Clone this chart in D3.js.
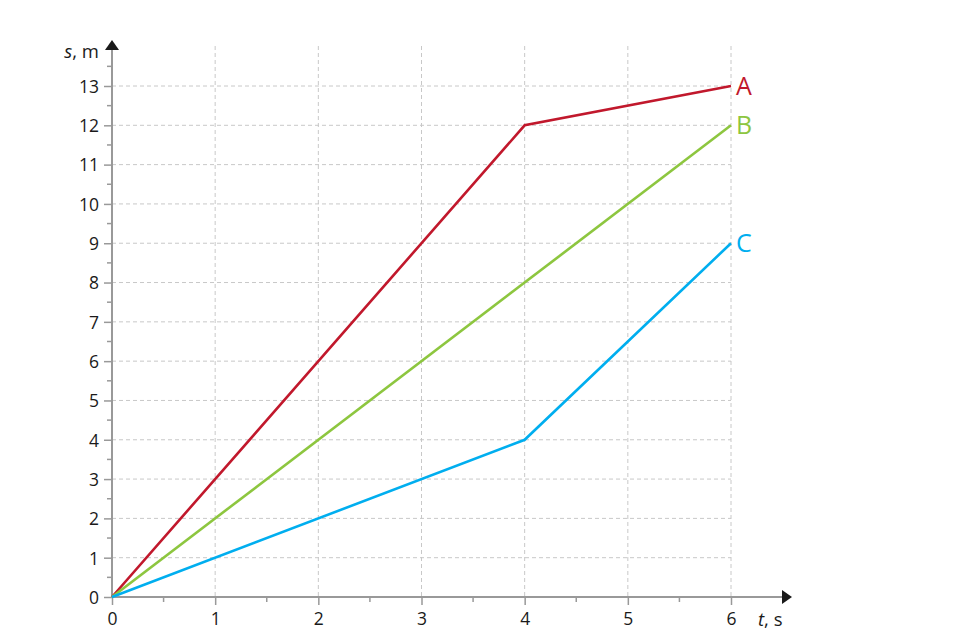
<!DOCTYPE html>
<html><head><meta charset="utf-8">
<script src="https://cdn.jsdelivr.net/npm/d3@7"></script>
<style>body{margin:0;background:#fff;}svg{display:block;font-family:"Open Sans",sans-serif;}</style>
</head><body>
<svg id="c" width="960" height="640"></svg>
<script>
const xTicks = [0,1,2,3,4,5,6];
const yTicks = [0,1,2,3,4,5,6,7,8,9,10,11,12,13];
const seriesNames = ["A","B","C"];
const seriesColors = ["#c1182c","#8dc63f","#00aeef"];
const seriesA = [[0,0],[4,12],[6,13]];
const seriesB = [[0,0],[6,12]];
const seriesC = [[0,0],[4,4],[6,9]];
const seriesData = [seriesA, seriesB, seriesC];

const svg = d3.select("#c");
const x = d3.scaleLinear().domain([0,6]).range([112,731]);
const y = d3.scaleLinear().domain([0,13]).range([597,86]);
const axisColor = "#999";
const gridColor = "#c8c8c8";

// grid
const g = svg.append("g");
g.selectAll(".vg").data(xTicks.slice(1)).join("line")
  .attr("x1",d=>x(d)).attr("x2",d=>x(d)).attr("y1",46).attr("y2",597)
  .attr("stroke",gridColor).attr("stroke-width",1).attr("stroke-dasharray","4,3");
g.selectAll(".hg").data(yTicks.slice(1)).join("line")
  .attr("y1",d=>y(d)).attr("y2",d=>y(d)).attr("x1",112).attr("x2",731)
  .attr("stroke",gridColor).attr("stroke-width",1).attr("stroke-dasharray","4,3");

// minor ticks
const xMinor = d3.range(0.5,6,1);
const yMinor = d3.range(0.5,14,1);
svg.append("g").selectAll("line").data(xMinor).join("line")
  .attr("x1",d=>x(d)).attr("x2",d=>x(d)).attr("y1",597).attr("y2",602)
  .attr("stroke",axisColor).attr("stroke-width",1.5);
svg.append("g").selectAll("line").data(yMinor).join("line")
  .attr("y1",d=>y(d)).attr("y2",d=>y(d)).attr("x1",107).attr("x2",112)
  .attr("stroke",axisColor).attr("stroke-width",1.5);

// axes
const xAxis = d3.axisBottom(x).tickValues(xTicks).tickSize(8).tickPadding(5).tickFormat(d3.format("d"));
const yAxis = d3.axisLeft(y).tickValues(yTicks).tickSize(8).tickPadding(5).tickFormat(d3.format("d"));
const gx = svg.append("g").attr("transform","translate(0,597)").call(xAxis);
const gy = svg.append("g").attr("transform","translate(112,0)").call(yAxis);
[gx,gy].forEach(a=>{
  a.select(".domain").remove();
  a.selectAll(".tick line").attr("stroke",axisColor).attr("stroke-width",1.5);
  a.selectAll(".tick text").attr("fill","#1a1a1a").style("font-size","17.5px").style("font-family","'Open Sans',sans-serif");
});
gy.selectAll(".tick text").attr("dy","0.36em");
gx.selectAll(".tick text").attr("dy","0.85em");

// axis lines with arrows
svg.append("line").attr("x1",112).attr("x2",782).attr("y1",597).attr("y2",597)
  .attr("stroke",axisColor).attr("stroke-width",2);
svg.append("path").attr("d","M782,590 L792,597 L782,604 Z").attr("fill","#1a1a1a");
svg.append("line").attr("x1",112).attr("x2",112).attr("y1",597).attr("y2",50)
  .attr("stroke",axisColor).attr("stroke-width",2);
svg.append("path").attr("d","M105,50 L112,40 L119,50 Z").attr("fill","#1a1a1a");

// axis titles
const yt = svg.append("text").attr("x",99).attr("y",58).attr("text-anchor","end")
  .attr("fill","#1a1a1a").style("font-size","18.5px");
yt.append("tspan").style("font-style","italic").text("s");
yt.append("tspan").text(", m");
const xt = svg.append("text").attr("x",758).attr("y",626).attr("text-anchor","start")
  .attr("fill","#1a1a1a").style("font-size","18.5px");
xt.append("tspan").style("font-style","italic").text("t");
xt.append("tspan").text(", s");

// lines
const line = d3.line().x(d=>x(d[0])).y(d=>y(d[1]));
seriesData.forEach((s,i)=>{
  svg.append("path").attr("d",line(s)).attr("fill","none")
    .attr("stroke",seriesColors[i]).attr("stroke-width",2.6).attr("stroke-linejoin","miter");
  const last = s[s.length-1];
  svg.append("text").attr("x",x(last[0])+5).attr("y",y(last[1])).attr("dy","0.36em")
    .attr("fill",seriesColors[i]).style("font-size","25px").text(seriesNames[i]);
});
</script>
</body></html>
